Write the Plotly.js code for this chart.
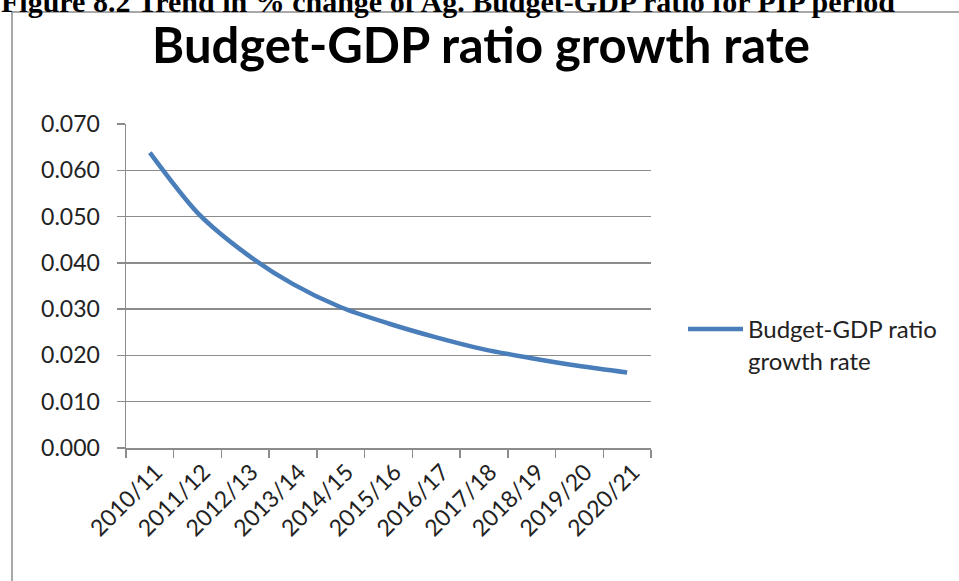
<!DOCTYPE html>
<html>
<head>
<meta charset="utf-8">
<script src="https://cdn.plot.ly/plotly-3.0.1.min.js"></script>
<style>
  html, body { margin: 0; padding: 0; background: #ffffff; }
  #chart { width: 959px; height: 581px; }
</style>
</head>
<body>
<div id="chart"></div>
<script>
const years = ["2010/11", "2011/12", "2012/13", "2013/14", "2014/15", "2015/16",
               "2016/17", "2017/18", "2018/19", "2019/20", "2020/21"];
const growthRate = [0.0638, 0.0508, 0.0421, 0.0354, 0.0304, 0.0269,
                    0.0239, 0.0213, 0.0194, 0.0177, 0.0163];
const seriesName = "Budget-GDP ratio<br>growth rate";
const chartTitle = "Budget-GDP ratio growth rate";
const captionText = "Figure 8.2 Trend in % change of Ag. Budget-GDP ratio for PIP period";

const grey = "#8c8c8c";
const textColor = "#222222";
const baseFont = { family: "Lato, 'Open Sans', sans-serif", size: 23, color: textColor };

const trace = {
  type: "scatter",
  mode: "lines",
  x: years,
  y: growthRate,
  name: seriesName,
  line: { color: "#4a7ebb", width: 4.5, shape: "spline", smoothing: 0.8 },
  hoverinfo: "x+y"
};

const layout = {
  width: 959,
  height: 581,
  paper_bgcolor: "#ffffff",
  plot_bgcolor: "#ffffff",
  margin: { l: 126, r: 308, t: 124, b: 133, pad: 0 },
  font: baseFont,
  title: {
    text: chartTitle,
    xref: "container", yref: "container",
    x: 481 / 959, xanchor: "center",
    y: 1 - 46 / 581, yanchor: "middle",
    font: { family: "Lato, 'Open Sans', sans-serif", size: 49, weight: 700, color: "#000000" }
  },
  xaxis: {
    type: "category",
    range: [-0.5, years.length - 0.5],
    tickangle: -45,
    tickson: "boundaries",
    ticks: "outside",
    ticklen: 8,
    tickwidth: 1.5,
    tickcolor: grey,
    ticklabelshift: 6,
    showline: true,
    linecolor: grey,
    linewidth: 1.5,
    showgrid: false,
    zeroline: false,
    tickfont: baseFont
  },
  yaxis: {
    range: [0, 0.07],
    tick0: 0,
    dtick: 0.01,
    tickformat: ".3f",
    ticks: "outside",
    ticklen: 8,
    tickwidth: 1.5,
    tickcolor: grey,
    ticklabelstandoff: 12,
    showline: true,
    linecolor: grey,
    linewidth: 1.5,
    showgrid: true,
    gridcolor: grey,
    gridwidth: 1.3,
    zeroline: false,
    tickfont: baseFont
  },
  showlegend: true,
  legend: {
    x: (683 - 126) / 525,
    xanchor: "left",
    y: (448 - 307) / 324,
    yanchor: "top",
    valign: "top",
    itemwidth: 55,
    bgcolor: "rgba(0,0,0,0)",
    borderwidth: 0,
    font: { family: "Lato, 'Open Sans', sans-serif", size: 24, color: textColor }
  },
  shapes: [{
    type: "rect",
    xref: "paper", yref: "paper",
    x0: (12 - 126) / 525, x1: (975 - 126) / 525,
    y0: -(600 - 448) / 324, y1: 1 + (124 - 12) / 324,
    line: { color: grey, width: 1.5 },
    fillcolor: "rgba(0,0,0,0)",
    layer: "below"
  }],
  annotations: [{
    text: "<b>" + captionText + "</b>",
    xref: "paper", yref: "paper",
    x: (0 - 126) / 525, xanchor: "left",
    y: 1 + (124 - 19) / 324, yanchor: "bottom",
    showarrow: false,
    borderpad: 0,
    font: { family: "'Liberation Serif', 'Times New Roman', serif", size: 30, color: "#000000" }
  }]
};

Plotly.newPlot("chart", [trace], layout, { displayModeBar: false, staticPlot: true });
</script>
</body>
</html>
